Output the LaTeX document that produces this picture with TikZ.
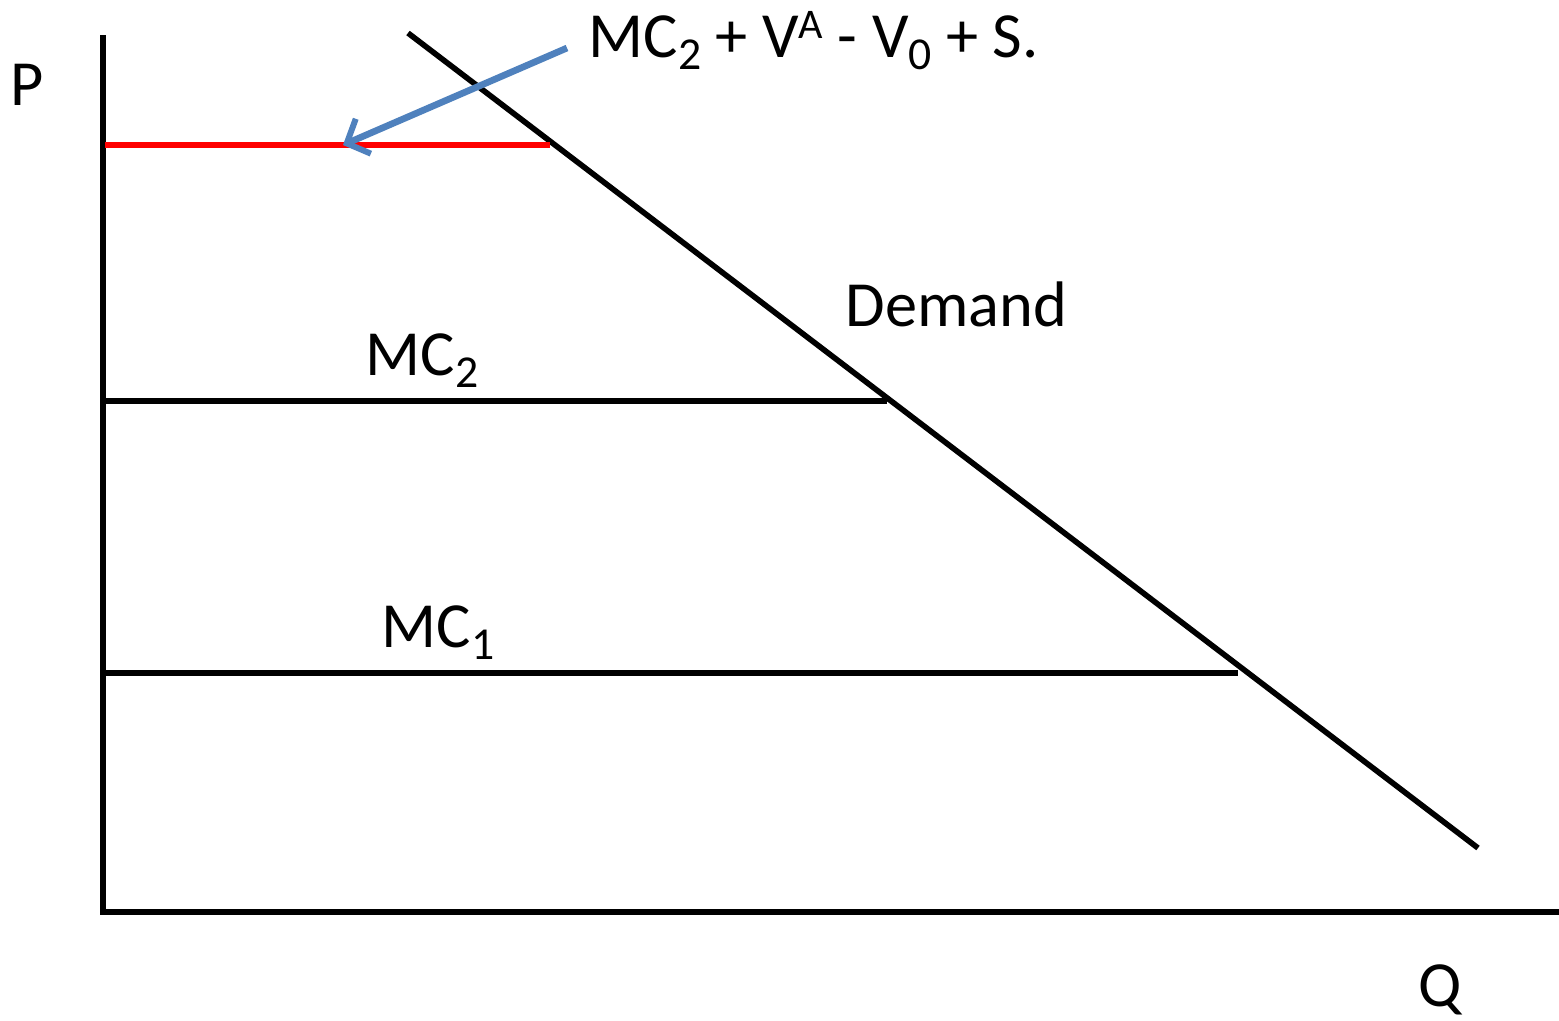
\documentclass[tikz,border=0pt]{standalone}
\usepackage{fontspec}
\setmainfont{Carlito}
\usepackage{xcolor}
\usetikzlibrary{arrows.meta}
\definecolor{pointerblue}{RGB}{79,129,189}
\newcommand{\lowidx}[1]{\raisebox{-3.6pt}{\fontsize{13}{14}\selectfont #1}}
\newcommand{\highidx}[1]{\raisebox{5.4pt}{\fontsize{12}{13}\selectfont #1}}
\tikzset{
  axis/.style={line width=1.7pt, black},
  curve/.style={line width=1.6pt, black},
  priceline/.style={line width=1.6pt, red},
  pointer/.style={-{Straight Barb[length=1.8mm, width=3.8mm, line width=1.7pt]},
    line width=1.9pt, pointerblue},
  axislabel/.style={font=\fontsize{18.3}{22}\selectfont, inner sep=0pt},
  curvelabel/.style={font=\fontsize{18.3}{22}\selectfont, inner sep=0pt, anchor=base west}
}

\begin{document}
\begin{tikzpicture}[x=0.01cm, y=-0.01cm]
  \useasboundingbox (0,0) rectangle (1559,1020);

  \coordinate (origin) at (103,912);
  \coordinate (ptop) at (103,35);
  \coordinate (qend) at (1559,912);
  \coordinate (dtop) at (408,33);
  \coordinate (dbottom) at (1478,848);

  \coordinate (redleft) at (105,145);
  \coordinate (redright) at (550,145);
  \coordinate (mctwoleft) at (105,401);
  \coordinate (mctworight) at (887,401);
  \coordinate (mconeleft) at (105,673);
  \coordinate (mconeright) at (1238,673);

  \draw[axis] (ptop) -- (origin) -- (qend);
  \draw[curve] (dtop) -- (dbottom);
  \draw[priceline] (redleft) -- (redright);
  \draw[curve] (mctwoleft) -- (mctworight);
  \draw[curve] (mconeleft) -- (mconeright);

  \node[axislabel] (plabel) at (27,85) {P};
  \node[axislabel] (qlabel) at (1440,990) {Q};
  \node[curvelabel] (demandlabel) at (845,326) {Demand};
  \node[curvelabel] (mctwolabel) at (365,375) {MC\lowidx{2}};
  \node[curvelabel] (mconelabel) at (381,647) {MC\lowidx{1}};
  \node[curvelabel] (pricelabel) at (588,57)
    {MC\lowidx{2} + V\highidx{A} - V\lowidx{0} + S.};

  \coordinate (pointerstart) at (567,48);
  \coordinate (pointerend) at (343,145);
  \draw[pointer] (pointerstart) -- (pointerend);
\end{tikzpicture}
\end{document}
